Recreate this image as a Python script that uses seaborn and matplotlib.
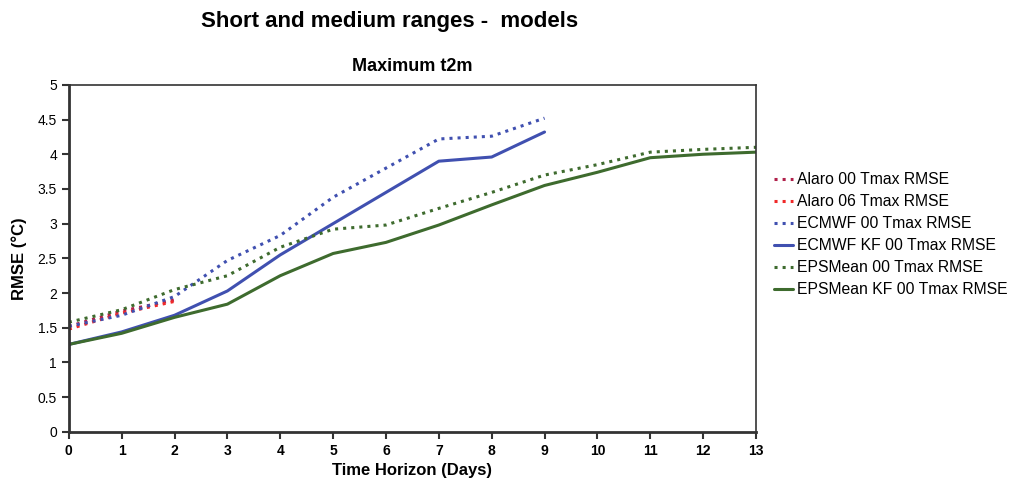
import numpy as np
import pandas as pd
import matplotlib
matplotlib.use('Agg')
import matplotlib.pyplot as plt
import seaborn as sns

sns.set_style('white')
plt.rcParams['font.family'] = ['Liberation Sans', 'DejaVu Sans']
plt.rcParams['text.color'] = 'black'
plt.rcParams['axes.labelcolor'] = 'black'
plt.rcParams['xtick.color'] = 'black'
plt.rcParams['ytick.color'] = 'black'

# RMSE of maximum t2m per forecast day
days = list(range(14))
alaro_00 = [1.52, 1.74, 1.90]
alaro_06 = [1.48, 1.71, 1.88]
ecmwf_00 = [1.52, 1.68, 1.95, 2.47, 2.83, 3.38, 3.80, 4.22, 4.26, 4.52]
ecmwf_kf = [1.26, 1.44, 1.68, 2.03, 2.55, 3.00, 3.45, 3.90, 3.96, 4.32]
eps_00 = [1.58, 1.76, 2.05, 2.25, 2.66, 2.92, 2.98, 3.22, 3.45, 3.70, 3.85, 4.03, 4.07, 4.10]
eps_kf = [1.26, 1.42, 1.65, 1.84, 2.25, 2.57, 2.73, 2.98, 3.27, 3.55, 3.74, 3.95, 4.00, 4.03]

series = [
    ('Alaro 00 Tmax RMSE', alaro_00, '#b0204a', ':'),
    ('Alaro 06 Tmax RMSE', alaro_06, '#f02828', ':'),
    ('ECMWF 00 Tmax RMSE', ecmwf_00, '#4050b0', ':'),
    ('ECMWF KF 00 Tmax RMSE', ecmwf_kf, '#4050b0', '-'),
    ('EPSMean 00 Tmax RMSE', eps_00, '#3e6b2e', ':'),
    ('EPSMean KF 00 Tmax RMSE', eps_kf, '#3e6b2e', '-'),
]

fig = plt.figure(figsize=(10.12, 4.82), dpi=100)
ax = fig.add_axes([0.068, 0.104, 0.679, 0.72])

for name, vals, col, ls in series:
    df = pd.DataFrame({'day': days[:len(vals)], 'rmse': vals})
    sns.lineplot(data=df, x='day', y='rmse', ax=ax, color=col, linestyle=ls,
                 linewidth=2.2, label=name)

ax.set_xlim(0, 13)
ax.set_ylim(0, 5)
ax.set_xticks(days)
ax.set_yticks(np.arange(0, 5.01, 0.5))
ax.set_yticklabels(['0', '0.5', '1', '1.5', '2', '2.5', '3', '3.5', '4', '4.5', '5'])
for lab in ax.get_xticklabels():
    lab.set_fontweight('bold')
ax.tick_params(axis='both', direction='out', length=5, width=1.5, labelsize=10,
               left=True, bottom=True, color='#333333')
for sp in ax.spines.values():
    sp.set_color('#333333')
ax.spines['left'].set_linewidth(2)
ax.spines['bottom'].set_linewidth(2)
ax.spines['top'].set_linewidth(1.2)
ax.spines['right'].set_linewidth(1.2)

ax.set_xlabel('Time Horizon (Days)', fontsize=12, fontweight='bold', labelpad=4)
ax.set_ylabel('RMSE (°C)', fontsize=12, fontweight='bold', labelpad=8)
ax.set_title('Maximum t2m', fontsize=13, fontweight='bold', pad=10)

fig.text(0.385, 0.955, 'Short and medium ranges -  models', fontsize=16,
         fontweight='bold', ha='center', va='center')

ax.legend(loc='center left', bbox_to_anchor=(1.026, 0.568), frameon=False,
          fontsize=11.3, handlelength=1.2, handletextpad=0.25, labelspacing=0.45,
          borderpad=0, borderaxespad=0)

fig.savefig('out.png', dpi=100)
